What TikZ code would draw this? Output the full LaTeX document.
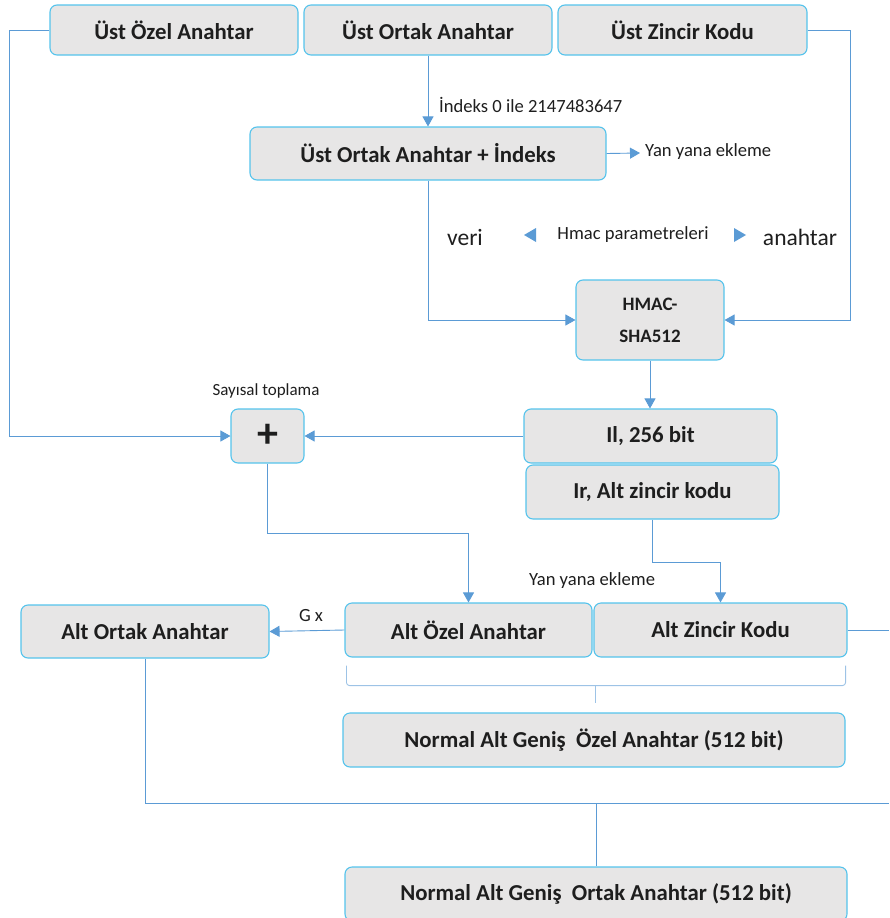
\documentclass[tikz,border=0pt]{standalone}
\usepackage{fontspec}
\setmainfont{Carlito}
\usepackage{tikz}
\usetikzlibrary{arrows.meta,calc}

\definecolor{hatmavi}{HTML}{5B9BD5}
\definecolor{kutucizgi}{HTML}{55C3EC}
\definecolor{kutudolgu}{HTML}{E7E6E6}
\definecolor{yazirenk}{HTML}{1E1E1E}

\tikzset{
  kutu/.style={draw=kutucizgi, fill=kutudolgu, line width=1.1pt, rounded corners=7pt,
    inner sep=0pt, minimum height=54pt, text=yazirenk,
    font=\fontsize{22.8}{26}\selectfont\bfseries},
  baglanti/.style={draw=hatmavi, line width=0.9pt},
  ok/.style={baglanti, -{Triangle[width=11pt,length=10pt]}},
  etiket/.style={inner sep=1pt, text=yazirenk, font=\fontsize{18.6}{21}\selectfont},
  kume/.style={draw=hatmavi!60, line width=0.9pt, rounded corners=3pt}
}

\begin{document}
\begin{tikzpicture}[x=1pt, y=-1pt]
            \useasboundingbox (0,0) rectangle (889,918);
            % ust anahtarlar
            \node[kutu, minimum width=248pt, minimum height=50pt] (uozel) at (174,30) {Üst Özel Anahtar};
            \node[kutu, minimum width=248pt, minimum height=50pt] (uortak) at (428,30) {Üst Ortak Anahtar};
            \node[kutu, minimum width=249pt, minimum height=50pt] (uzincir) at (682.5,30) {Üst Zincir Kodu};

            \node[kutu, minimum width=356pt, minimum height=53pt] (uindeks) at (428,153.5) {Üst Ortak Anahtar + İndeks};
            \node[kutu, minimum width=148pt, minimum height=80pt, align=center,
                  font=\fontsize{19}{32}\selectfont\bfseries] (hmac) at (650,320) {HMAC-\\SHA512};

            \node[kutu, minimum width=253pt] (il) at (650.5,436) {Il, 256 bit};
            \node[kutu, minimum width=253pt] (ir) at (652.5,492) {Ir, Alt zincir kodu};
            \node[kutu, minimum width=73pt, font=\fontsize{42}{42}\selectfont\bfseries] (arti) at (267.5,436) {+};

            % alt anahtarlar
            \node[kutu, minimum width=247pt] (aozel) at (468.5,630) {Alt Özel Anahtar};
            \node[kutu, minimum width=253pt] (azincir) at (720.5,630) {Alt Zincir Kodu};
            \node[kutu, minimum width=248pt, minimum height=53pt] (aortak) at (145,631.5) {Alt Ortak Anahtar};
            \node[kutu, minimum width=502pt] (nozel) at (594,740) {Normal Alt Geniş\ \ Özel Anahtar (512 bit)};
            \node[kutu, minimum width=502pt] (nortak) at (596,894) {Normal Alt Geniş\ \ Ortak Anahtar (512 bit)};

            % etiketler
            \node[etiket, anchor=west] at (438,105) {İndeks 0 ile 2147483647};
            \coordinate (yanuc) at (640,153);
            \node[etiket, anchor=west] (yan1) at (644,152) {Yan yana ekleme};
            \node[etiket, font=\fontsize{23.5}{26}\selectfont] (veri) at (465,237) {veri};
            \node[etiket] (hmacpar) at (633,235) {Hmac parametreleri};
            \node[etiket, font=\fontsize{23.5}{26}\selectfont] (anahtar) at (800,237) {anahtar};
            \node[etiket, font=\fontsize{17}{20}\selectfont] at (266,391) {Sayısal toplama};
            \node[etiket] at (592,581) {Yan yana ekleme};
            \node[etiket] at (311,616) {G x};
            \fill[hatmavi] (524,235) -- (536,228) -- (536,242) -- cycle;
            \fill[hatmavi] (746,235) -- (734,228) -- (734,242) -- cycle;

            % baglantilar
            \draw[ok] (uozel.west) -- ++(-40,0) |- (arti.west);
            \draw[ok] (uzincir.east) -- ++(43,0) |- (hmac.east);
            \draw[ok] (uortak.south) -- (uindeks.north);
            \draw[ok] (uindeks.east) -- (yanuc);
            \draw[ok] (uindeks.south) |- (hmac.west);
            \draw[ok] (hmac.south) -- (hmac.south |- il.north);
            \draw[ok] (il.west) -- (arti.east);
            \draw[ok] (arti.south) -- ++(0,70) -| (aozel.north);
            \draw[ok] (ir.south) -- ++(0,43) -| (azincir.north);
            \draw[ok] (aozel.west) -- (aortak.east);
            \coordinate (sagkenar) at (889,630);
            \draw[baglanti] (azincir.east) -- (sagkenar);
            \coordinate (hatuc) at (889,803);
            \draw[baglanti] (aortak.south) |- (hatuc);
            \draw[baglanti] (nortak.north) -- (nortak.north |- hatuc);

            % kume isareti
            \draw[kume] ([xshift=2pt,yshift=-8pt]aozel.south west) -- ++(0,20) -- ([xshift=-2pt,yshift=-28pt]azincir.south east) -- ++(0,-20);
            \draw[kume] (595,685) -- (595,703);
        \end{tikzpicture}
\end{document}
